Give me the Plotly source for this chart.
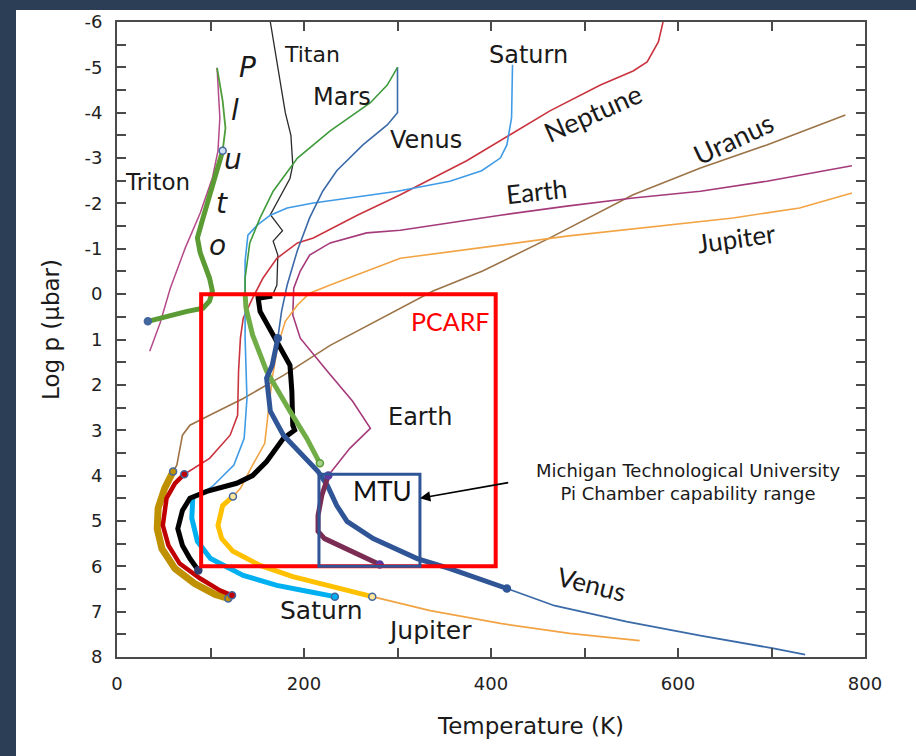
import plotly.graph_objects as go

# ---------------- data (Temperature K, log10 p in microbar) ----------------
titan_T = [164, 172, 180, 186, 188, 185, 164, 177, 167, 172, 171, 166]
titan_L = [-6.0, -5.0, -4.0, -3.5, -2.85, -2.55, -1.75, -1.4, -1.17, -0.86, -0.2, 0.04]

pcarf_T = [166, 151, 153, 174, 185, 187, 188, 190, 178, 160, 145, 128, 96, 78, 70, 65, 70, 78, 87]
pcarf_L = [0.04, 0.09, 0.38, 1.19, 1.57, 2.14, 2.89, 3.0, 3.18, 3.69, 4.0, 4.17, 4.35, 4.5, 4.77, 5.17, 5.54, 5.83, 6.09]

mars_thin_T = [300, 289, 271, 228, 193, 167, 153, 142, 137, 137]
mars_thin_L = [-5.0, -4.61, -4.22, -3.6, -3.0, -2.27, -1.68, -1.13, -0.35, 0.0]
mars_T = [137, 138, 145, 155, 160, 185, 203, 217]
mars_L = [0.0, 0.31, 0.9, 1.41, 1.7, 2.58, 3.18, 3.73]

venus_top_T = [300, 300, 289, 263, 235, 220, 206, 198, 193, 182, 176, 172]
venus_top_L = [-5.0, -4.0, -3.73, -3.29, -2.72, -2.27, -1.68, -1.24, -0.97, -0.2, 0.38, 0.97]
venus_T = [172, 166, 160, 164, 178, 199, 215, 225, 235, 246, 274, 321, 356, 417]
venus_L = [0.97, 1.57, 1.85, 2.58, 3.11, 3.55, 3.91, 4.22, 4.66, 5.01, 5.39, 5.83, 6.05, 6.49]
venus_low_T = [417, 468, 545, 624, 702, 736]
venus_low_L = [6.49, 6.87, 7.22, 7.53, 7.81, 7.95]

saturn_thin_T = [423, 422, 417, 410, 390, 356, 300, 249, 210, 182, 164, 150, 140, 137, 137, 137, 139, 136, 125, 102, 81]
saturn_thin_L = [-5.06, -3.89, -3.29, -3.0, -2.72, -2.49, -2.27, -2.12, -2.01, -1.9, -1.74, -1.52, -1.3, -0.73, 0.02, 0.97, 2.3, 3.18, 3.77, 4.24, 4.5]
saturn_T = [81, 80, 86, 100, 135, 171, 206, 233]
saturn_L = [4.5, 4.94, 5.45, 5.83, 6.2, 6.42, 6.56, 6.67]

jupiter_top_T = [786, 730, 659, 588, 481, 410, 303, 228, 206, 193, 180, 172, 166, 161, 158, 145, 132, 124]
jupiter_top_L = [-2.23, -1.9, -1.68, -1.52, -1.28, -1.08, -0.79, -0.2, -0.02, 0.24, 0.6, 1.13, 1.85, 2.74, 3.29, 3.77, 4.28, 4.46]
jupiter_T = [124, 113, 108, 112, 124, 153, 188, 225, 273]
jupiter_L = [4.46, 4.66, 5.1, 5.39, 5.67, 5.98, 6.23, 6.42, 6.67]
jupiter_low_T = [273, 335, 410, 484, 559]
jupiter_low_L = [6.67, 6.98, 7.26, 7.48, 7.64]

neptune_thin_T = [584, 579, 567, 552, 517, 463, 420, 374, 303, 257, 210, 193, 171, 156, 145, 135, 132, 130, 129, 121, 99, 78, 72]
neptune_thin_L = [-6.0, -5.56, -5.12, -4.92, -4.61, -4.04, -3.51, -2.94, -2.19, -1.74, -1.24, -1.13, -0.79, -0.35, 0.09, 0.53, 0.97, 1.7, 2.67, 3.11, 3.62, 3.89, 3.97]
neptune_T = [72, 62, 53, 49, 55, 67, 89, 110, 123]
neptune_L = [3.97, 4.17, 4.5, 5.1, 5.54, 5.94, 6.27, 6.53, 6.64]

uranus_thin_T = [779, 695, 624, 552, 463, 391, 338, 228, 178, 135, 99, 78, 70, 67, 64, 60]
uranus_thin_L = [-3.95, -3.29, -2.78, -2.19, -1.24, -0.51, -0.07, 1.13, 1.79, 2.3, 2.67, 2.89, 3.11, 3.47, 3.77, 3.91]
uranus_T = [60, 51, 44, 43, 48, 62, 83, 105, 119]
uranus_L = [3.91, 4.28, 4.72, 5.17, 5.61, 6.05, 6.38, 6.62, 6.71]

earth_thin_T = [786, 695, 624, 552, 481, 410, 303, 267, 228, 206, 196, 189, 188, 196, 225, 252, 271, 249, 226]
earth_thin_L = [-2.83, -2.49, -2.27, -2.12, -1.94, -1.74, -1.41, -1.35, -1.13, -0.86, -0.51, -0.13, 0.46, 0.97, 1.7, 2.36, 2.96, 3.4, 4.0]
earth_T = [226, 219, 215, 215, 222, 249, 281]
earth_L = [4.0, 4.44, 4.88, 5.23, 5.39, 5.65, 5.96]

triton_T = [107, 110, 108, 102, 89, 73, 57, 46, 35]
triton_L = [-4.99, -3.89, -3.16, -2.56, -1.79, -1.02, -0.13, 0.64, 1.26]

pluto_thin_T = [107, 113, 116, 113]
pluto_thin_L = [-4.99, -4.26, -3.66, -3.16]
pluto_T = [113, 106, 97, 92, 86, 89, 99, 102, 99, 92, 75, 53, 33]
pluto_L = [-3.16, -2.67, -2.12, -1.68, -1.24, -0.91, -0.35, -0.07, 0.15, 0.31, 0.38, 0.49, 0.6]

pcarf_box_T = [90, 405]
pcarf_box_L = [0, 6]
mtu_box_T = [216, 324]
mtu_box_L = [3.97, 6]

x_ticks = [0, 200, 400, 600, 800]
y_ticks = list(range(-6, 9))

# ---------------- figure ----------------
W, H = 916, 756
ML, MR, MT, MB = 117, 51, 22, 99
PW, PH = W - ML - MR, H - MT - MB


def px(x):
    return (x - ML) / PW


def py(y):
    return (H - MB - y) / PH


fig = go.Figure()


def line(T, L, color, width):
    fig.add_trace(go.Scatter(x=T, y=L, mode="lines", line=dict(color=color, width=width),
                             hoverinfo="skip", showlegend=False))


def dots(pts, fill, edge):
    fig.add_trace(go.Scatter(x=[p[0] for p in pts], y=[p[1] for p in pts], mode="markers",
                             marker=dict(size=7, color=fill, line=dict(color=edge, width=1.5)),
                             hoverinfo="skip", showlegend=False))


# thin profiles
line(triton_T, triton_L, "#b54a8a", 1.5)
line(titan_T, titan_L, "#2a2a2a", 1.3)
line(uranus_thin_T, uranus_thin_L, "#9c7448", 1.6)
line(earth_thin_T, earth_thin_L, "#a53a7a", 1.6)
line(jupiter_top_T, jupiter_top_L, "#f2a444", 1.6)
line(jupiter_low_T, jupiter_low_L, "#f2a444", 1.8)
line(neptune_thin_T, neptune_thin_L, "#c9343f", 1.6)
line(saturn_thin_T, saturn_thin_L, "#3f9be6", 1.6)
line(venus_top_T, venus_top_L, "#3b6aa8", 1.6)
line(venus_low_T, venus_low_L, "#3b6aa8", 1.8)
line(mars_thin_T, mars_thin_L, "#3f9a3c", 1.6)
line(pluto_thin_T, pluto_thin_L, "#4f9c3a", 1.8)

# thick highlighted segments
line(uranus_T, uranus_L, "#bf9000", 7)
line(neptune_T, neptune_L, "#c00000", 4.5)
line(saturn_T, saturn_L, "#00b0f0", 5)
line(jupiter_T, jupiter_L, "#ffc000", 5)
line(pcarf_T, pcarf_L, "#000000", 5)
line(mars_T, mars_L, "#70ad47", 5)
line(venus_T, venus_L, "#2f5597", 5)
line(earth_T, earth_L, "#7b2c52", 5)
line(pluto_T, pluto_L, "#5b9b33", 5)

# end markers
edge = "#44679e"
dots([(uranus_T[0], uranus_L[0]), (uranus_T[-1], uranus_L[-1])], "#bf9000", edge)
dots([(neptune_T[0], neptune_L[0]), (neptune_T[-1], neptune_L[-1])], "#c00000", edge)
dots([(saturn_T[-1], saturn_L[-1])], "#00b0f0", edge)
dots([(jupiter_T[0], jupiter_L[0]), (jupiter_T[-1], jupiter_L[-1])], "#ffe699", edge)
dots([(pcarf_T[-1], pcarf_L[-1])], "#2f3f70", "#2f3f70")
dots([(mars_T[-1], mars_L[-1])], "#a9d18e", "#5b9b33")
dots([(venus_T[0], venus_L[0]), (venus_T[-1], venus_L[-1])], "#2f5597", "#2f5597")
dots([(earth_T[0], earth_L[0]), (earth_T[-1], earth_L[-1])], "#7030a0", "#5040a0")
dots([(pluto_T[0], pluto_L[0])], "#cfe0f0", edge)
dots([(pluto_T[-1], pluto_L[-1])], "#44679e", edge)

shapes = [
    dict(type="rect", xref="x", yref="y", x0=pcarf_box_T[0], x1=pcarf_box_T[1],
         y0=pcarf_box_L[0], y1=pcarf_box_L[1], line=dict(color="#ff0000", width=4), layer="above"),
    dict(type="rect", xref="x", yref="y", x0=mtu_box_T[0], x1=mtu_box_T[1],
         y0=mtu_box_L[0], y1=mtu_box_L[1], line=dict(color="#2f5597", width=3), layer="above"),
    # navy frame of the slide
    dict(type="rect", xref="paper", yref="paper", x0=px(-5), x1=px(16), y0=py(H + 5), y1=py(-5),
         line=dict(width=0), fillcolor="#2c3e55", layer="above"),
    dict(type="rect", xref="paper", yref="paper", x0=px(-5), x1=px(W + 5), y0=py(10), y1=py(-5),
         line=dict(width=0), fillcolor="#2c3e55", layer="above"),
]

FIG = "DejaVu Sans, Liberation Sans, sans-serif"
CAL = "Lato, Open Sans, sans-serif"


def label(x, y, text, size=22, angle=0, color="#1a1a1a", family=FIG):
    return dict(x=x, y=y, xref="x", yref="y", text=text, showarrow=False, textangle=angle,
                xanchor="center", yanchor="middle",
                font=dict(size=size, color=color, family=family))


annotations = [
    label(209, -5.28, "Titan", 22),
    label(440, -5.28, "Saturn", 24),
    label(241, -4.35, "Mars", 24),
    label(330, -3.4, "Venus", 24),
    label(43, -2.47, "Triton", 23),
    label(140, -4.99, "<i>P</i>", 28),
    label(126, -4.04, "<i>l</i>", 28),
    label(124, -2.96, "<i>u</i>", 28),
    label(112, -2.0, "<i>t</i>", 28),
    label(108, -1.08, "<i>o</i>", 28),
    label(509, -4.0, "Neptune", 27, -24, family=CAL),
    label(659, -3.44, "Uranus", 27, -25, family=CAL),
    label(449, -2.27, "Earth", 26, -6, family=CAL),
    label(663, -1.24, "Jupiter", 26, -8, family=CAL),
    label(356, 0.6, "PCARF", 25, 0, "#ff0000", CAL),
    label(324, 2.7, "Earth", 24),
    label(284, 4.33, "MTU", 26, 0, "#111111", CAL),
    label(611, 4.15, "Michigan Technological University<br>Pi Chamber capability range", 18),
    label(508, 6.38, "Venus", 26, 14, family=CAL),
    label(219, 6.98, "Saturn", 25),
    label(335, 7.42, "Jupiter", 25),
    dict(x=324, y=4.5, xref="x", yref="y", ax=420, ay=4.15, axref="x", ayref="y", text="",
         showarrow=True, arrowhead=2, arrowsize=1.3, arrowwidth=1.6, arrowcolor="#000000"),
    dict(x=px(51), y=py(330), xref="paper", yref="paper", text="Log p (\u03bcbar)", textangle=-90,
         xanchor="center", yanchor="middle",
         showarrow=False, font=dict(size=23, color="#1a1a1a", family=FIG)),
    dict(x=px(530), y=py(726), xref="paper", yref="paper", text="Temperature (K)",
         xanchor="center", yanchor="middle",
         showarrow=False, font=dict(size=23, color="#1a1a1a", family=FIG)),
]

axis_common = dict(showline=True, linecolor="#4a4a4a", linewidth=2, mirror="ticks",
                   ticks="inside", tickcolor="#4a4a4a", tickwidth=1.5, ticklen=9,
                   showgrid=False, zeroline=False,
                   tickfont=dict(size=18, color="#222222", family=FIG))

fig.update_xaxes(range=[0, 800], tickvals=x_ticks, ticktext=[str(v) for v in x_ticks],
                 minor=dict(dtick=100, ticks="inside", ticklen=9, tickcolor="#4a4a4a", tickwidth=1.5),
                 ticklabelstandoff=9, **axis_common)
fig.update_yaxes(range=[8, -6], tickvals=y_ticks, ticktext=[str(v) for v in y_ticks],
                 minor=dict(dtick=0.5, ticks="inside", ticklen=9, tickcolor="#4a4a4a", tickwidth=1.5),
                 ticklabelstandoff=9, **axis_common)

fig.update_layout(width=W, height=H, margin=dict(l=ML, r=MR, t=MT, b=MB, pad=0),
                  paper_bgcolor="#ffffff", plot_bgcolor="#ffffff",
                  shapes=shapes, annotations=annotations, showlegend=False)

fig.write_html("out.html", config={"displayModeBar": False},
               post_script="document.body.style.margin='0px';document.body.style.overflow='hidden';")
